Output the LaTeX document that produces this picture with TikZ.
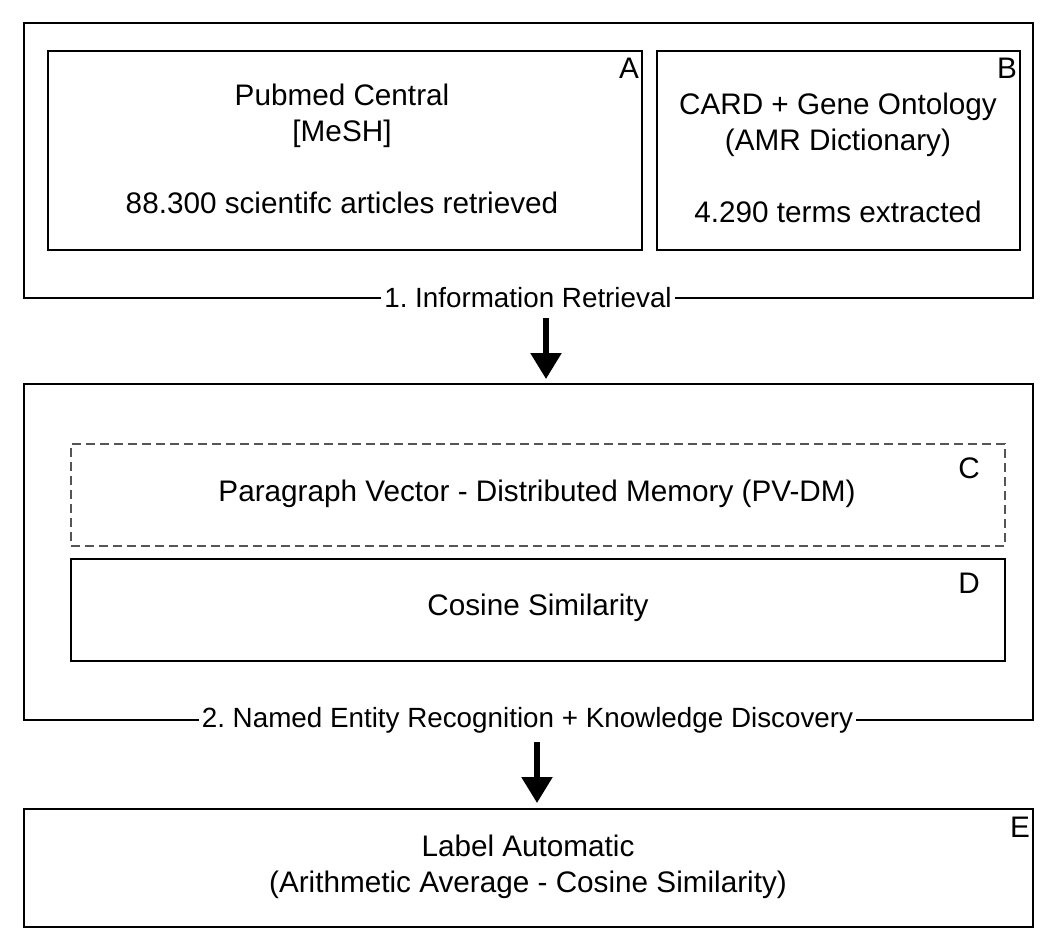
\documentclass[tikz,border=0pt]{standalone}
\usepackage{fontspec}
\setmainfont{Liberation Sans}
\usetikzlibrary{arrows.meta}
\definecolor{dashgray}{HTML}{555555}
\frenchspacing
\tikzset{
  box/.style={draw=black, line width=2pt, inner sep=0pt, outer sep=0pt, rectangle},
  dbox/.style={draw=dashgray, line width=2pt, dash pattern=on 9pt off 5pt, inner sep=0pt, outer sep=0pt, rectangle},
  txt/.style={inner sep=0pt, align=center, font=\fontsize{29.7}{36}\selectfont},
  corner/.style={inner sep=0pt, font=\fontsize{29.7}{36}\selectfont},
  steplabel/.style={fill=white, inner xsep=3pt, inner ysep=2pt, font=\fontsize{27.8}{33}\selectfont},
  bigarrow/.style={line width=5.5pt, -{Triangle[width=30pt,length=26pt]}}
}
\begin{document}
\begin{tikzpicture}[x=1pt,y=-1pt]
\useasboundingbox[fill=white] (0,0) rectangle (1052,950);
% stage 1
\node[box, minimum width=1009pt, minimum height=275pt] (box1) at (528.5,160.5) {};
\node[box, minimum width=594pt, minimum height=199pt] (boxA) at (345,150.5) {};
\node[box, minimum width=363pt, minimum height=199pt] (boxB) at (838.5,150.5) {};
\node[txt] (tA) at (342,149) {Pubmed Central\\{}{[MeSH]}\\[36pt]88.300 scientifc articles retrieved};
\node[txt] (tB) at (838,158) {CARD + Gene Ontology\\(AMR Dictionary)\\[36pt]4.290 terms extracted};
\node[corner] (cA) at (629,68) {A};
\node[corner] (cB) at (1007,68) {B};
\node[steplabel] (l1) at (528,298) {1. Information Retrieval};
% stage 2
\node[box, minimum width=1009pt, minimum height=336pt] (box2) at (528.5,552) {};
\node[dbox, minimum width=934pt, minimum height=102pt] (boxC) at (538,495) {};
\node[box, minimum width=934pt, minimum height=102pt] (boxD) at (538,610) {};
\node[txt] (tC) at (537,494) {Paragraph Vector - Distributed Memory (PV-DM)};
\node[txt] (tD) at (538,608) {Cosine Similarity};
\node[corner] (cC) at (969,468) {C};
\node[corner] (cD) at (969,583) {D};
\node[steplabel] (l2) at (527.5,720) {2. Named Entity Recognition + Knowledge Discovery};
% stage 3
\node[box, minimum width=1009pt, minimum height=118pt] (boxE) at (528.5,868) {};
\node[txt] (tE) at (528,866.5) {Label Automatic\\(Arithmetic Average - Cosine Similarity)};
\node[corner] (cE) at (1020,827) {E};
% arrows
\coordinate (a1s) at (546,318);
\coordinate (a2s) at (537,742);
\draw[bigarrow] (a1s) -- ([yshift=5pt]a1s |- box2.north);
\draw[bigarrow] (a2s) -- ([yshift=6pt]a2s |- boxE.north);
\end{tikzpicture}
\end{document}
